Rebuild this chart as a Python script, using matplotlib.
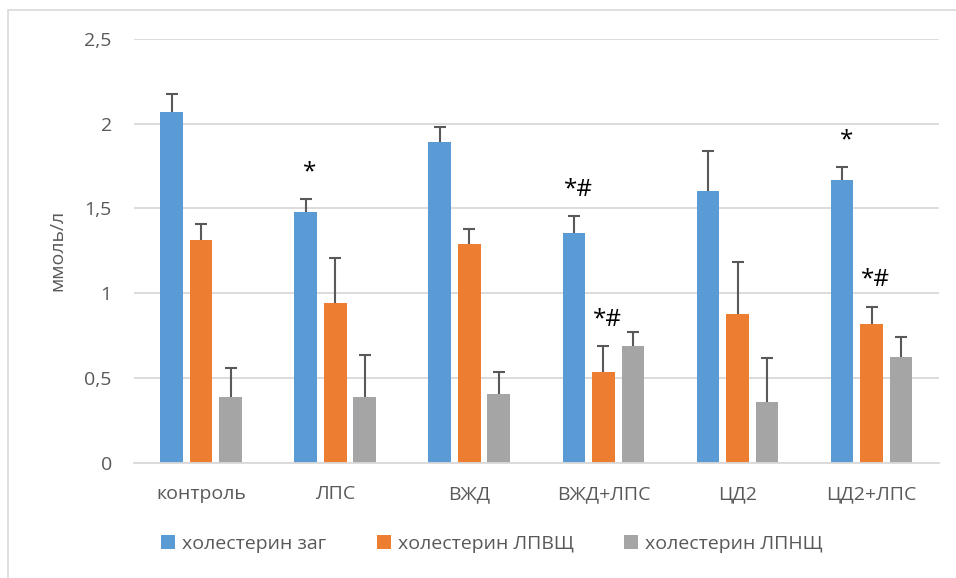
import matplotlib
matplotlib.use("Agg")
import matplotlib.pyplot as plt
import numpy as np
from matplotlib.patches import Rectangle

# data
groups = ["контроль", "ЛПС", "ВЖД", "ВЖД+ЛПС", "ЦД2", "ЦД2+ЛПС"]
series_names = ["холестерин заг", "холестерин ЛПВЩ", "холестерин ЛПНЩ"]

total = [2.067, 1.479, 1.892, 1.358, 1.601, 1.666]
total_err = [0.109, 0.078, 0.089, 0.097, 0.240, 0.079]

hdl = [1.313, 0.943, 1.290, 0.536, 0.876, 0.819]
hdl_err = [0.093, 0.262, 0.090, 0.151, 0.309, 0.102]

ldl = [0.386, 0.386, 0.408, 0.687, 0.360, 0.622]
ldl_err = [0.173, 0.250, 0.129, 0.085, 0.258, 0.120]

# significance marks: (series index, group index, text)
marks = [(0, 1, "*"), (0, 3, "*#"), (1, 3, "*#"), (0, 5, "*"), (1, 5, "*#")]

colors = ["#5B9BD5", "#ED7D31", "#A5A5A5"]
text_color = "#595959"
grid_color = "#D9D9D9"
fs = 14

plt.rcParams["font.family"] = ["Open Sans", "DejaVu Sans"]

W, H = 956, 578
fig = plt.figure(figsize=(W / 100, H / 100), dpi=100)

# chart border (only left and top edges fall inside the image)
fig.patches.append(Rectangle((8 / W, -0.1), 1.2, 1.1 - 10 / H,
                             transform=fig.transFigure, fill=False,
                             edgecolor=grid_color, linewidth=1.2))

left, right, top, bottom = 134, 938.7, 39, 462.7
ax = fig.add_axes([left / W, 1 - bottom / H, (right - left) / W, (bottom - top) / H])

x = np.arange(len(groups))
width = 0.169
step = 0.22
values = [total, hdl, ldl]
errors = [total_err, hdl_err, ldl_err]

for i, (vals, errs) in enumerate(zip(values, errors)):
    pos = x + (i - 1) * step
    ax.bar(pos, vals, width, color=colors[i], label=series_names[i], zorder=2)
    eb = ax.errorbar(pos, vals, yerr=[np.zeros(len(vals)), errs], fmt="none",
                     ecolor="#595959", elinewidth=1.5, capsize=4, capthick=1.5,
                     zorder=3)
    eb[1][0].set_visible(False)  # hide lower caps

for s, g, txt in marks:
    top_val = values[s][g] + errors[s][g]
    ax.annotate(txt, xy=(x[g] + (s - 1) * step, top_val), xytext=(3, 19),
                textcoords="offset points", ha="center", va="center",
                fontsize=17.5, fontweight="medium", color="black")

ax.set_xlim(-0.5, len(groups) - 0.5)
ax.set_ylim(0, 2.5)
ax.set_yticks([0, 0.5, 1, 1.5, 2, 2.5])
ax.set_yticklabels(["0", "0,5", "1", "1,5", "2", "2,5"])
ax.set_xticks(x)
ax.set_xticklabels(groups)
ax.tick_params(length=0, labelsize=fs, labelcolor=text_color)
ax.tick_params(axis="y", pad=16)
ax.tick_params(axis="x", pad=16)
ax.yaxis.grid(True, color=grid_color, linewidth=1.3, zorder=0)
ax.set_axisbelow(True)
for name in ["top", "right", "left"]:
    ax.spines[name].set_visible(False)
ax.spines["bottom"].set_color(grid_color)
ax.spines["bottom"].set_linewidth(1.3)
ax.set_ylabel("ммоль/л", fontsize=fs, color=text_color, labelpad=13)

fig.legend(loc="center", bbox_to_anchor=(492 / W, 1 - 544 / H), ncol=3,
           frameon=False, fontsize=fs, labelcolor=text_color,
           handlelength=0.72, handleheight=0.72, handletextpad=0.35,
           columnspacing=2.6)

fig.savefig("out.png", dpi=100)
